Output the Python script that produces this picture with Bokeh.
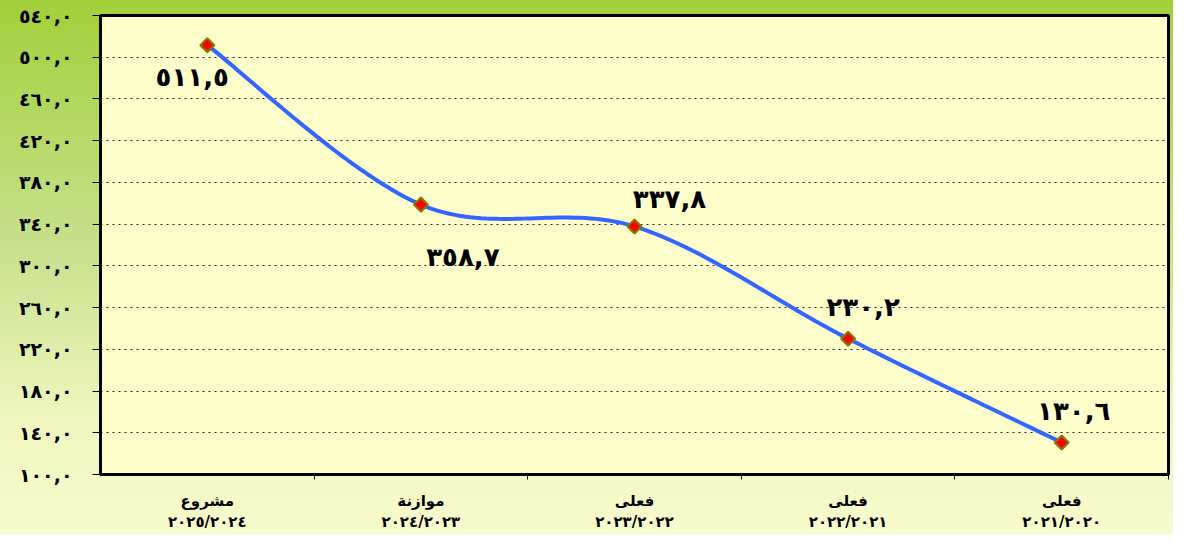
import numpy as np
from bokeh.plotting import figure
from bokeh.models import Range1d, FixedTicker, ColumnDataSource
from bokeh.core.properties import value
from bokeh.embed import file_html
from bokeh.resources import INLINE

# ---- data ----
categories = ["مشروع\n٢٠٢٥/٢٠٢٤", "موازنة\n٢٠٢٤/٢٠٢٣", "فعلى\n٢٠٢٣/٢٠٢٢",
              "فعلى\n٢٠٢٢/٢٠٢١", "فعلى\n٢٠٢١/٢٠٢٠"]
values = [511.5, 358.7, 337.8, 230.2, 130.6]
value_labels = ["٥١١,٥", "٣٥٨,٧", "٣٣٧,٨", "٢٣٠,٢", "١٣٠,٦"]
y_ticks = [100, 140, 180, 220, 260, 300, 340, 380, 420, 460, 500, 540]
y_tick_labels = ["١٠٠,٠", "١٤٠,٠", "١٨٠,٠", "٢٢٠,٠", "٢٦٠,٠", "٣٠٠,٠",
                 "٣٤٠,٠", "٣٨٠,٠", "٤٢٠,٠", "٤٦٠,٠", "٥٠٠,٠", "٥٤٠,٠"]
label_dx = [-15, 42, 35, 15, 12]
label_dy = [32, 52, -27, -32, -32]

W, H = 1173, 534
ML, MR, MT, MB = 100, 5, 15, 55
FW, FH = W - ML - MR, H - MT - MB
Y0, Y1 = 100, 540
n = len(values)
xs = [i + 0.5 for i in range(n)]

p = figure(width=W, height=H, output_backend="svg", toolbar_location=None,
           x_range=Range1d(0, n), y_range=Range1d(Y0, Y1),
           min_border_left=ML, min_border_right=MR, min_border_top=MT,
           min_border_bottom=MB)
p.styles = {"background": "linear-gradient(to bottom, #a2d03a 0%, #c6e08a 45%, #eef6bd 78%, #f8fbcd 100%)"}
p.border_fill_color = None
p.background_fill_color = "#FFFFCC"
p.outline_line_color = "black"
p.outline_line_width = 3

# smooth curve (Catmull-Rom in pixel space)
sx = FW / n
sy = FH / (Y1 - Y0)
P = np.array([[x * sx, (y - Y0) * sy] for x, y in zip(xs, values)])
ext = np.vstack([P[0], P, P[-1]])
cx, cy = [], []
for i in range(n - 1):
    p0, p1, p2, p3 = ext[i], ext[i + 1], ext[i + 2], ext[i + 3]
    c1 = p1 + (p2 - p0) / 6
    c2 = p2 - (p3 - p1) / 6
    t = np.linspace(0, 1, 40)[:, None]
    B = ((1 - t) ** 3) * p1 + 3 * ((1 - t) ** 2) * t * c1 + 3 * (1 - t) * t ** 2 * c2 + t ** 3 * p2
    cx.extend(B[:, 0] / sx)
    cy.extend(B[:, 1] / sy + Y0)
p.line(cx, cy, line_color="#3366FF", line_width=4)

src = ColumnDataSource(dict(x=xs, y=values, lab=value_labels, dx=label_dx, dy=label_dy))
p.scatter("x", "y", source=src, marker="square", size=10, angle=np.pi / 4,
          fill_color="#FF0000", line_color="#808000", line_width=2)
p.text("x", "y", text="lab", source=src, x_offset="dx", y_offset="dy",
       text_align="center", text_baseline="middle", text_font=value("DejaVu Sans"),
       text_font_style="bold", text_font_size="26px", text_color="black")

# axes
p.xaxis.ticker = FixedTicker(ticks=xs, minor_ticks=[1, 2, 3, 4, 5])
p.xaxis.major_label_overrides = {x: c for x, c in zip(xs, categories)}
p.xaxis.major_tick_out = 0
p.xaxis.major_tick_in = 0
p.xaxis.minor_tick_out = 5
p.xaxis.minor_tick_in = 0
p.xaxis.minor_tick_line_color = "black"
p.xaxis.minor_tick_line_width = 1
p.xaxis.major_label_standoff = 12
p.xaxis.major_label_text_font = "DejaVu Sans"
p.xaxis.major_label_text_font_style = "bold"
p.xaxis.major_label_text_font_size = "15px"
p.xaxis.major_label_text_color = "black"
p.xaxis.axis_line_width = 3
p.xaxis.axis_line_color = "black"

p.yaxis.ticker = FixedTicker(ticks=y_ticks)
p.yaxis.major_label_overrides = {t: l for t, l in zip(y_ticks, y_tick_labels)}
p.yaxis.major_tick_out = 8
p.yaxis.major_tick_in = 0
p.yaxis.minor_tick_out = 0
p.yaxis.minor_tick_in = 0
p.yaxis.major_tick_line_color = "black"
p.yaxis.major_label_standoff = 20
p.yaxis.major_label_text_font = "DejaVu Sans"
p.yaxis.major_label_text_font_style = "bold"
p.yaxis.major_label_text_font_size = "19px"
p.yaxis.major_label_text_color = "black"
p.yaxis.axis_line_width = 3
p.yaxis.axis_line_color = "black"

p.xgrid.grid_line_color = None
p.ygrid.grid_line_color = "#222222"
p.ygrid.grid_line_dash = "dotted"
p.ygrid.grid_line_width = 1

open("out.html", "w").write(file_html(p, INLINE))
